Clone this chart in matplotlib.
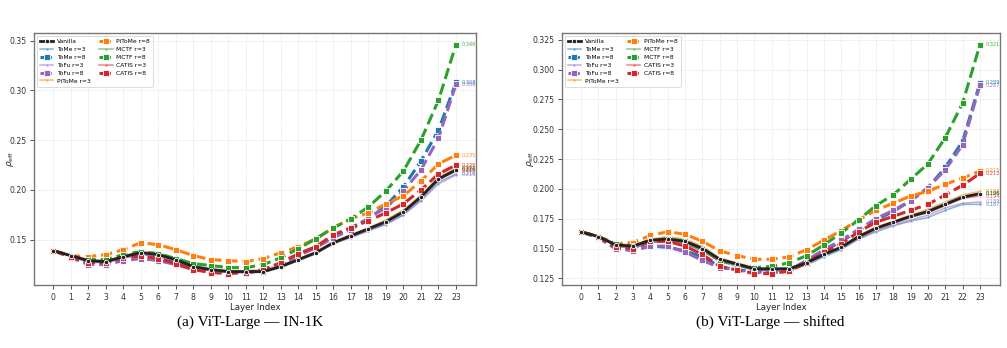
import matplotlib
matplotlib.use("Agg")
import matplotlib.pyplot as plt
import numpy as np

layers = list(range(24))

# ---- (a) ViT-Large — IN-1K ----
vanilla_a = [0.139, 0.134, 0.129, 0.128, 0.133, 0.137, 0.135, 0.130, 0.123, 0.120, 0.118, 0.118, 0.118, 0.123, 0.130, 0.137, 0.147, 0.154, 0.161, 0.168, 0.178, 0.193, 0.211, 0.220]
tome3_a = [0.139, 0.134, 0.128, 0.127, 0.132, 0.135, 0.134, 0.129, 0.122, 0.119, 0.117, 0.117, 0.118, 0.123, 0.129, 0.136, 0.146, 0.153, 0.159, 0.166, 0.175, 0.190, 0.208, 0.216]
tome8_a = [0.139, 0.133, 0.127, 0.127, 0.131, 0.133, 0.131, 0.127, 0.121, 0.118, 0.117, 0.117, 0.119, 0.126, 0.135, 0.143, 0.153, 0.162, 0.171, 0.184, 0.203, 0.229, 0.260, 0.308]
tofu3_a = [0.139, 0.133, 0.127, 0.127, 0.131, 0.135, 0.133, 0.128, 0.121, 0.119, 0.117, 0.117, 0.117, 0.122, 0.129, 0.136, 0.146, 0.152, 0.159, 0.165, 0.175, 0.189, 0.206, 0.215]
tofu8_a = [0.139, 0.132, 0.125, 0.125, 0.129, 0.131, 0.129, 0.125, 0.120, 0.118, 0.117, 0.117, 0.118, 0.125, 0.134, 0.142, 0.152, 0.160, 0.172, 0.182, 0.199, 0.220, 0.252, 0.306]
pitome3_a = [0.139, 0.135, 0.130, 0.129, 0.134, 0.138, 0.137, 0.131, 0.124, 0.121, 0.119, 0.119, 0.120, 0.125, 0.131, 0.138, 0.148, 0.155, 0.162, 0.170, 0.180, 0.195, 0.213, 0.222]
pitome8_a = [0.139, 0.134, 0.133, 0.135, 0.140, 0.147, 0.145, 0.140, 0.134, 0.130, 0.129, 0.128, 0.131, 0.137, 0.143, 0.151, 0.162, 0.171, 0.177, 0.186, 0.194, 0.209, 0.226, 0.235]
mctf3_a = [0.139, 0.134, 0.129, 0.129, 0.133, 0.137, 0.136, 0.131, 0.123, 0.120, 0.119, 0.118, 0.119, 0.124, 0.131, 0.137, 0.148, 0.154, 0.161, 0.169, 0.179, 0.194, 0.212, 0.221]
mctf8_a = [0.139, 0.134, 0.130, 0.130, 0.135, 0.138, 0.136, 0.131, 0.126, 0.124, 0.122, 0.122, 0.125, 0.132, 0.141, 0.151, 0.162, 0.171, 0.183, 0.199, 0.219, 0.250, 0.290, 0.346]
catis3_a = [0.139, 0.134, 0.128, 0.128, 0.132, 0.136, 0.135, 0.130, 0.122, 0.119, 0.118, 0.117, 0.118, 0.123, 0.130, 0.137, 0.147, 0.153, 0.160, 0.168, 0.177, 0.192, 0.210, 0.219]
catis8_a = [0.139, 0.133, 0.127, 0.127, 0.132, 0.134, 0.131, 0.126, 0.120, 0.117, 0.116, 0.117, 0.120, 0.127, 0.136, 0.143, 0.155, 0.162, 0.169, 0.177, 0.186, 0.200, 0.216, 0.225]

# ---- (b) ViT-Large — shifted ----
vanilla_b = [0.164, 0.160, 0.153, 0.152, 0.157, 0.158, 0.156, 0.150, 0.141, 0.137, 0.133, 0.133, 0.133, 0.138, 0.145, 0.151, 0.160, 0.167, 0.172, 0.177, 0.181, 0.187, 0.193, 0.196]
tome3_b = [0.164, 0.160, 0.152, 0.150, 0.155, 0.156, 0.154, 0.148, 0.139, 0.136, 0.132, 0.131, 0.132, 0.136, 0.143, 0.149, 0.158, 0.164, 0.169, 0.173, 0.176, 0.182, 0.187, 0.187]
tome8_b = [0.164, 0.159, 0.150, 0.149, 0.152, 0.151, 0.148, 0.143, 0.135, 0.132, 0.131, 0.130, 0.131, 0.139, 0.148, 0.156, 0.165, 0.174, 0.181, 0.190, 0.201, 0.218, 0.240, 0.289]
tofu3_b = [0.164, 0.160, 0.152, 0.150, 0.155, 0.156, 0.154, 0.148, 0.139, 0.135, 0.132, 0.131, 0.132, 0.137, 0.144, 0.150, 0.158, 0.165, 0.170, 0.174, 0.178, 0.184, 0.188, 0.189]
tofu8_b = [0.164, 0.159, 0.150, 0.148, 0.152, 0.152, 0.147, 0.140, 0.134, 0.132, 0.130, 0.130, 0.132, 0.140, 0.149, 0.157, 0.166, 0.175, 0.182, 0.190, 0.201, 0.216, 0.237, 0.287]
pitome3_b = [0.164, 0.161, 0.154, 0.153, 0.158, 0.160, 0.158, 0.152, 0.142, 0.138, 0.134, 0.133, 0.134, 0.139, 0.146, 0.152, 0.161, 0.168, 0.173, 0.178, 0.183, 0.189, 0.195, 0.198]
pitome8_b = [0.164, 0.160, 0.154, 0.155, 0.161, 0.164, 0.162, 0.156, 0.148, 0.144, 0.141, 0.141, 0.143, 0.149, 0.157, 0.165, 0.174, 0.182, 0.188, 0.194, 0.198, 0.204, 0.209, 0.215]
mctf3_b = [0.164, 0.161, 0.154, 0.152, 0.157, 0.159, 0.157, 0.151, 0.141, 0.137, 0.133, 0.133, 0.133, 0.138, 0.145, 0.151, 0.160, 0.167, 0.172, 0.177, 0.182, 0.188, 0.194, 0.196]
mctf8_b = [0.164, 0.160, 0.154, 0.152, 0.157, 0.158, 0.156, 0.150, 0.140, 0.136, 0.134, 0.135, 0.138, 0.144, 0.153, 0.163, 0.174, 0.186, 0.195, 0.208, 0.221, 0.243, 0.272, 0.321]
catis3_b = [0.164, 0.160, 0.153, 0.151, 0.156, 0.157, 0.155, 0.149, 0.140, 0.136, 0.132, 0.132, 0.133, 0.138, 0.145, 0.151, 0.159, 0.166, 0.171, 0.176, 0.180, 0.186, 0.192, 0.194]
catis8_b = [0.164, 0.160, 0.151, 0.150, 0.156, 0.156, 0.152, 0.145, 0.135, 0.132, 0.129, 0.129, 0.131, 0.138, 0.147, 0.154, 0.164, 0.172, 0.177, 0.182, 0.187, 0.195, 0.203, 0.213]

series_names = ["Vanilla", "ToMe r=3", "ToMe r=8", "ToFu r=3", "ToFu r=8",
                "PiToMe r=3", "PiToMe r=8", "MCTF r=3", "MCTF r=8", "CATIS r=3", "CATIS r=8"]
panel_a = [vanilla_a, tome3_a, tome8_a, tofu3_a, tofu8_a, pitome3_a, pitome8_a, mctf3_a, mctf8_a, catis3_a, catis8_a]
panel_b = [vanilla_b, tome3_b, tome8_b, tofu3_b, tofu8_b, pitome3_b, pitome8_b, mctf3_b, mctf8_b, catis3_b, catis8_b]
captions = ["(a) ViT-Large — IN-1K", "(b) ViT-Large — shifted"]

colors = {"Vanilla": "#222222", "ToMe": "#1f77b4", "ToFu": "#9467bd",
          "PiToMe": "#ff7f0e", "MCTF": "#2ca02c", "CATIS": "#d62728"}


def style_for(name):
    if name == "Vanilla":
        return dict(color=colors["Vanilla"], ls="-", lw=2.0, marker="o", ms=3.2,
                    mfc="#222222", mec="white", mew=0.6, alpha=1.0, zorder=6)
    method, r = name.split(" ")
    c = colors[method]
    if r == "r=3":
        return dict(color=c, ls="-", lw=1.1, marker="o", ms=2.0, mfc=c, mec="white",
                    mew=0.3, alpha=0.55, zorder=3)
    return dict(color=c, ls="--", lw=2.2, marker="s", ms=5.0, mfc=c, mec="white",
                mew=0.6, alpha=1.0, zorder=4)


fig = plt.figure(figsize=(10.07, 3.48), dpi=100)
ax_a = fig.add_axes([0.0338, 0.181, 0.439, 0.724])
ax_b = fig.add_axes([0.558, 0.181, 0.435, 0.724])

for ax, data, cap, cx, ylx in [(ax_a, panel_a, captions[0], 0.248, -0.04),
                               (ax_b, panel_b, captions[1], 0.765, -0.06)]:
    for name, vals in zip(series_names, data):
        st = style_for(name)
        ax.plot(layers, vals, label=name, **st)
        ax.text(layers[-1] + 0.3, vals[-1], f"{vals[-1]:.3f}", fontsize=3.6,
                color=st["color"], alpha=0.8 if st["alpha"] < 1 else 0.9,
                va="center", ha="left")
    ax.set_xticks(layers)
    ax.set_xlim(-1.1, 24.15)
    ax.grid(True, ls="--", lw=0.5, color="#dddddd", alpha=0.8)
    ax.tick_params(labelsize=5.6, colors="#333333", length=3, width=0.6, pad=2.5)
    for sp in ax.spines.values():
        sp.set_color("#777777")
        sp.set_linewidth(1.0)
    ax.set_xlabel("Layer Index", fontsize=6.2, color="#222222", labelpad=1)
    ax.set_ylabel(r"$\rho_{\mathrm{eff}}$", fontsize=6.5, color="#222222")
    ax.yaxis.set_label_coords(ylx, 0.5)
    leg = ax.legend(loc="upper left", ncol=2, fontsize=4.3, frameon=True,
                    handlelength=2.2, columnspacing=1.5, labelspacing=0.45,
                    borderpad=0.5, handletextpad=0.6)
    leg.get_frame().set_edgecolor("#cccccc")
    leg.get_frame().set_linewidth(0.6)
    fig.text(cx, 0.075, cap, ha="center", va="center", fontsize=11,
             family="Liberation Serif")

fig.savefig("out.png", dpi=100)
